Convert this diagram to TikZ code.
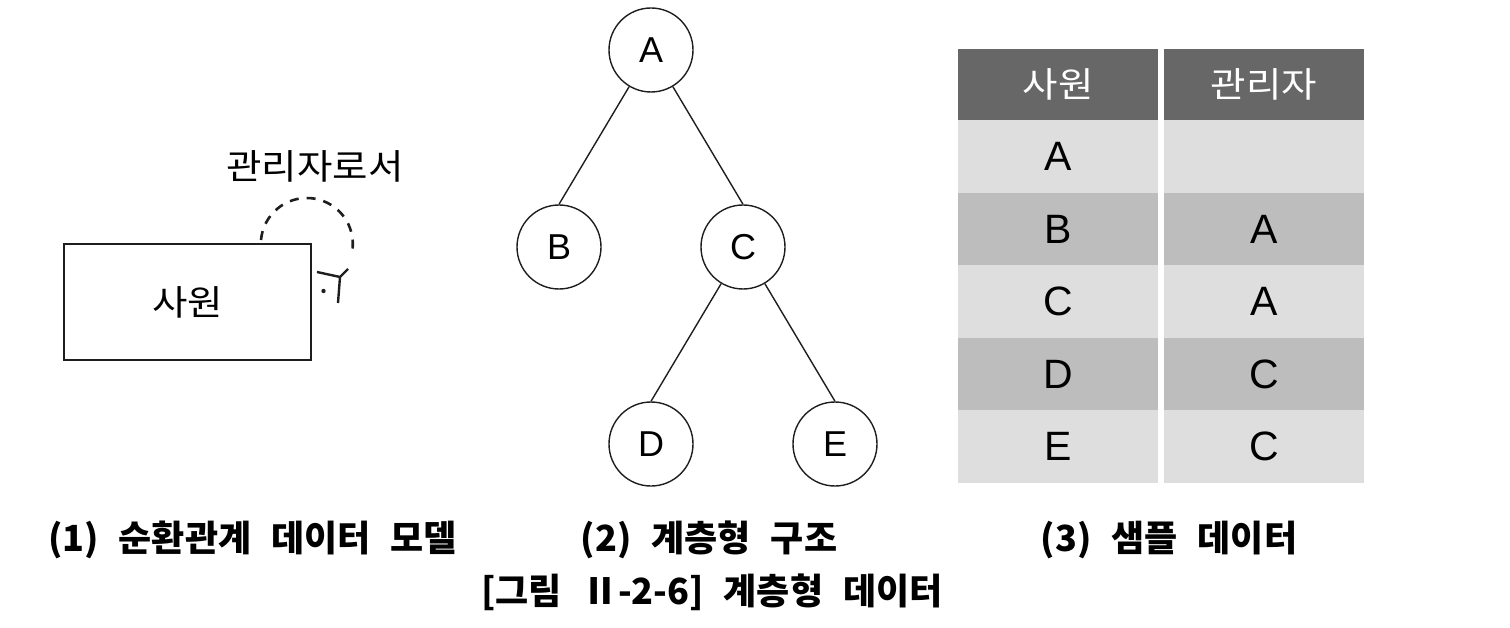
\documentclass[tikz,border=0pt]{standalone}
\usepackage{fontspec}
\setmainfont{Liberation Sans}
\newfontfamily\kr{Noto Sans CJK KR}
\newcommand{\wide}[1]{\scalebox{1.1}[1]{#1}}
\newcommand{\capsp}{\spaceskip=20pt plus 2pt\relax}
\definecolor{hdr}{HTML}{676767}
\definecolor{rowlight}{HTML}{DEDEDE}
\definecolor{rowdark}{HTML}{BDBDBD}
\definecolor{ink}{HTML}{1E1E1E}
\begin{document}
\begin{tikzpicture}[x=1pt,y=-1pt,
  treenode/.style={circle,draw=ink,line width=1.4pt,minimum size=84pt,inner sep=0pt,font=\fontsize{36}{40}\selectfont},
  treeedge/.style={draw=ink,line width=1.4pt},
  krtext/.style={font=\kr\fontsize{35}{38}\selectfont},
  hcell/.style={krtext,fill=hdr,text=white,minimum width=200pt,minimum height=71pt,inner sep=0pt},
  lcell/.style={fill=rowlight,minimum width=200pt,minimum height=72.6pt,inner sep=0pt,font=\fontsize{41}{44}\selectfont},
  dcell/.style={fill=rowdark,minimum width=200pt,minimum height=72.6pt,inner sep=0pt,font=\fontsize{41}{44}\selectfont},
  caption/.style={font=\kr\bfseries\fontsize{36}{40}\selectfont,inner sep=0pt}]
\useasboundingbox (0,0) rectangle (1510,628);
% (1) entity with recursive relationship
\node[krtext,draw=ink,line width=1.8pt,minimum width=247pt,minimum height=116pt,inner sep=0pt] (emp) at (187.5,302) {\wide{사원}};
\node[krtext,inner sep=0pt] (role) at (315,166) {\wide{관리자로서}};
\coordinate (loopstart) at (261,240);
\draw[ink,line width=2.6pt,dash pattern=on 9pt off 8pt] (loopstart) arc[start angle=185,end angle=372,radius=46];
\coordinate (cfj) at (340,277);
\coordinate (cfl) at (317,272);
\coordinate (cfr) at (348,269);
\coordinate (cfs) at (338,303);
\draw[ink,line width=2.4pt] (cfl) -- (cfj) -- (cfr) (cfj) -- (cfs);
\fill[ink] (323.5,291) circle[radius=2.2pt];
% (2) tree
\node[treenode] (A) at (651,50) {A};
\node[treenode] (B) at (559,247) {B};
\node[treenode] (C) at (743,247) {C};
\node[treenode] (D) at (651,444) {D};
\node[treenode] (E) at (835,444) {E};
\draw[treeedge] (A) -- (B.north);
\draw[treeedge] (A) -- (C.north);
\draw[treeedge] (C) -- (D.north);
\draw[treeedge] (C) -- (E.north);
% (3) table
\node[hcell] (h1) at (1058,84.5) {\wide{사원}};
\node[hcell] (h2) at (1264,84.5) {\wide{관리자}};
\node[lcell] (r1a) at (1058,156.3) {A};
\node[lcell] (r1b) at (1264,156.3) {};
\node[dcell] (r2a) at (1058,228.9) {B};
\node[dcell] (r2b) at (1264,228.9) {A};
\node[lcell] (r3a) at (1058,301.5) {C};
\node[lcell] (r3b) at (1264,301.5) {A};
\node[dcell] (r4a) at (1058,374.1) {D};
\node[dcell] (r4b) at (1264,374.1) {C};
\node[lcell] (r5a) at (1058,446.7) {E};
\node[lcell] (r5b) at (1264,446.7) {C};
% captions
\node[caption] (c1) at (252.5,540) {\capsp (1) 순환관계 데이터 모델};
\node[caption] (c2) at (709,540) {\capsp (2) 계층형 구조};
\node[caption] (c3) at (1169,540) {\capsp (3) 샘플 데이터};
\node[caption] (c4) at (712,592) {\capsp [그림 Ⅱ-2-6] 계층형 데이터};
\end{tikzpicture}
\end{document}
